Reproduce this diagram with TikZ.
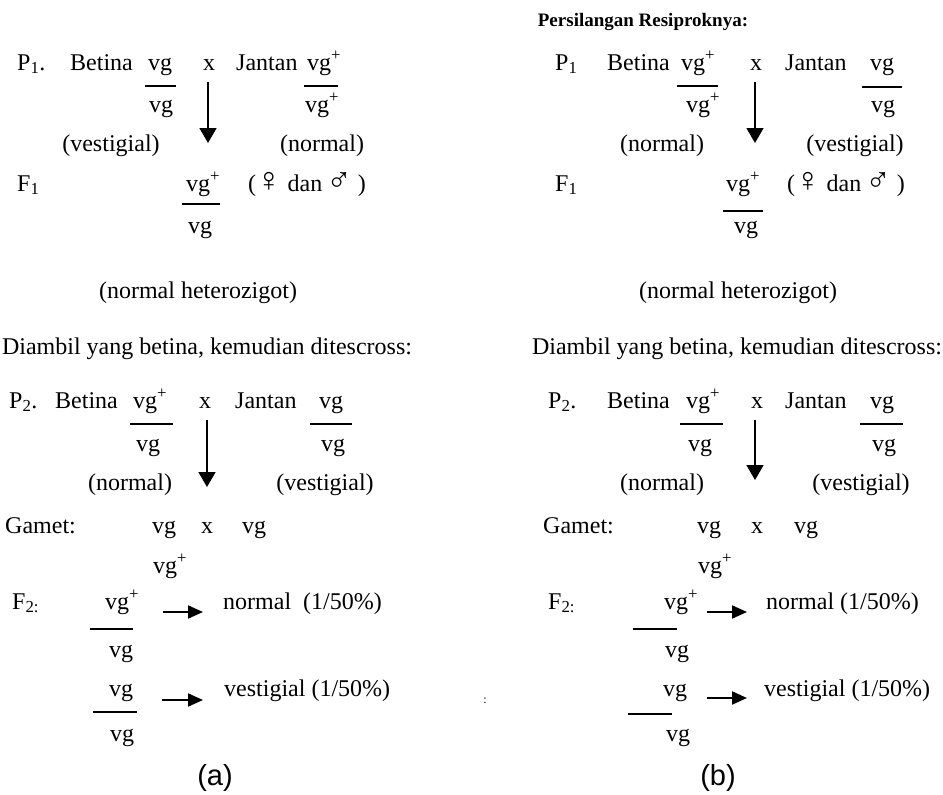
\documentclass[tikz,border=0pt]{standalone}
\usepackage{fontspec}
\setmainfont{Liberation Serif}
\setsansfont{Liberation Sans}
\usetikzlibrary{arrows.meta}
\newcommand{\crossfont}{\fontsize{24}{28}\selectfont}
\newcommand{\vgp}{vg\textsuperscript{+}}
\newcommand{\sexsym}[1]{{\fontsize{34}{34}\selectfont #1}}
\tikzset{
  txt/.style={anchor=base west, inner sep=0pt, font=\crossfont},
  allele/.style={anchor=base, inner sep=0pt, font=\crossfont},
  heading/.style={anchor=base, inner sep=0pt, font=\fontsize{19}{23}\selectfont\bfseries},
  caption/.style={anchor=base, inner sep=0pt, font=\sffamily\fontsize{29}{34}\selectfont},
  fracbar/.style={line width=2pt},
  crossarrow/.style={line width=1.5pt, -{Triangle[width=17pt,length=15pt]}},
  resultarrow/.style={line width=2pt, -{Triangle[width=13pt,length=15pt]}}
}

\begin{document}
\begin{tikzpicture}[x=1pt,y=-1pt]
\useasboundingbox (0,0) rectangle (943,795);

% (a) left cross
\node[txt] (p1a) at (17,70) {P\textsubscript{1}.};
\node[txt] (betp1a) at (70,70) {Betina};
\node[allele] (fp1a) at (160,70) {vg};
\draw[fracbar] (145,86) -- (176,86);
\node[allele] (fp1ab) at (161,112) {vg};
\node[allele] (xp1a) at (209,70) {x};
\node[txt] (janp1a) at (236,70) {Jantan};
\node[allele] (mp1a) at (324,70) {\vgp};
\draw[fracbar] (304,86) -- (338,86);
\node[allele] (mp1ab) at (322,112) {\vgp};
\node[allele] (phfp1a) at (111,151) {(vestigial)};
\node[allele] (phmp1a) at (322,151) {(normal)};
\coordinate (tip1a) at (208,143);
\draw[crossarrow] (xp1a.south) ++(-1,12) -- (tip1a);

\node[txt] (f1a) at (17,191) {F\textsubscript{1}};
\node[allele] (gf1a) at (203,191) {\vgp};
\draw[fracbar] (182,204) -- (220,204);
\node[allele] (gf1ab) at (200,233) {vg};
\node[txt] (sexa) at (248,191) {(\sexsym{♀}\ dan\,\sexsym{♂}\ )};
\node[allele] (heta) at (198,298) {(normal heterozigot)};
\node[allele] (tca) at (207,354) {Diambil yang betina, kemudian ditescross:};

\node[txt] (p2a) at (9,408) {P\textsubscript{2}.};
\node[txt] (betp2a) at (55,408) {Betina};
\node[allele] (fp2a) at (150,408) {\vgp};
\draw[fracbar] (130,424) -- (173,424);
\node[allele] (fp2ab) at (148,451) {vg};
\node[allele] (xp2a) at (205,408) {x};
\node[txt] (janp2a) at (235,408) {Jantan};
\node[allele] (mp2a) at (331,408) {vg};
\draw[fracbar] (310,424) -- (352,424);
\node[allele] (mp2ab) at (333,451) {vg};
\node[allele] (phfp2a) at (130,490) {(normal)};
\node[allele] (phmp2a) at (325,490) {(vestigial)};
\coordinate (tip2a) at (207,487);
\draw[crossarrow] (xp2a.south) ++(2,12) -- (tip2a);

\node[txt] (gama) at (5,533) {Gamet:};
\node[allele] (gam1a) at (164,533) {vg};
\node[allele] (gamxa) at (207,533) {x};
\node[allele] (gam2a) at (254,533) {vg};
\node[allele] (gam3a) at (170,573) {\vgp};

\node[txt] (f2a) at (12,609) {F\textsubscript{2:}};
\node[allele] (g1a) at (122,609) {\vgp};
\draw[fracbar] (90,629) -- (133,629);
\node[allele] (g1ab) at (121,657) {vg};
\coordinate (s1a) at (163,612);
\node[txt] (r1a) at (223,609) {normal\ \ (1/50\%)};
\draw[resultarrow] (s1a) -- (203,612);
\node[allele] (g2a) at (121,696) {vg};
\draw[fracbar] (93,712) -- (137,712);
\node[allele] (g2ab) at (122,741) {vg};
\coordinate (s2a) at (162,700);
\node[txt] (r2a) at (224,696) {vestigial (1/50\%)};
\draw[resultarrow] (s2a) -- (203,700);
\node[caption] (capa) at (215,785) {(a)};

% (b) reciprocal cross
\node[heading] (title) at (643,26) {Persilangan Resiproknya:};
\node[txt] (p1b) at (555,70) {P\textsubscript{1}};
\node[txt] (betp1b) at (607,70) {Betina};
\node[allele] (fp1b) at (698,70) {\vgp};
\draw[fracbar] (677,86) -- (718,86);
\node[allele] (fp1bb) at (703,112) {\vgp};
\node[allele] (xp1b) at (756,70) {x};
\node[txt] (janp1b) at (785,70) {Jantan};
\node[allele] (mp1b) at (882,70) {vg};
\draw[fracbar] (862,87) -- (902,87);
\node[allele] (mp1bb) at (883,112) {vg};
\node[allele] (phfp1b) at (662,151) {(normal)};
\node[allele] (phmp1b) at (855,151) {(vestigial)};
\coordinate (tip1b) at (755,143);
\draw[crossarrow] (xp1b.south) ++(-1,12) -- (tip1b);

\node[txt] (f1b) at (555,191) {F\textsubscript{1}};
\node[allele] (gf1b) at (743,191) {\vgp};
\draw[fracbar] (723,211) -- (763,211);
\node[allele] (gf1bb) at (746,233) {vg};
\node[txt] (sexb) at (787,191) {(\sexsym{♀}\ dan\,\sexsym{♂}\ )};
\node[allele] (hetb) at (738,298) {(normal heterozigot)};
\node[allele] (tcb) at (737,354) {Diambil yang betina, kemudian ditescross:};

\node[txt] (p2b) at (548,408) {P\textsubscript{2}.};
\node[txt] (betp2b) at (607,408) {Betina};
\node[allele] (fp2b) at (703,408) {\vgp};
\draw[fracbar] (680,424) -- (723,424);
\node[allele] (fp2bb) at (700,451) {vg};
\node[allele] (xp2b) at (757,408) {x};
\node[txt] (janp2b) at (785,408) {Jantan};
\node[allele] (mp2b) at (882,408) {vg};
\draw[fracbar] (860,424) -- (903,424);
\node[allele] (mp2bb) at (884,451) {vg};
\node[allele] (phfp2b) at (662,490) {(normal)};
\node[allele] (phmp2b) at (861,490) {(vestigial)};
\coordinate (tip2b) at (755,480);
\draw[crossarrow] (xp2b.south) ++(-2,12) -- (tip2b);

\node[txt] (gamb) at (543,533) {Gamet:};
\node[allele] (gam1b) at (709,533) {vg};
\node[allele] (gamxb) at (757,533) {x};
\node[allele] (gam2b) at (806,533) {vg};
\node[allele] (gam3b) at (715,573) {\vgp};

\node[txt] (f2b) at (548,609) {F\textsubscript{2:}};
\node[allele] (g1b) at (681,609) {\vgp};
\draw[fracbar] (633,629) -- (677,629);
\node[allele] (g1bb) at (677,657) {vg};
\coordinate (s1b) at (707,612);
\node[txt] (r1b) at (766,609) {normal (1/50\%)};
\draw[resultarrow] (s1b) -- (747,612);
\node[allele, font=\fontsize{12}{14}\selectfont] (dotsb) at (485,703) {:};
\node[allele] (g2b) at (675,696) {vg};
\draw[fracbar] (628,714) -- (672,714);
\node[allele] (g2bb) at (678,741) {vg};
\coordinate (s2b) at (707,698);
\node[txt] (r2b) at (764,696) {vestigial (1/50\%)};
\draw[resultarrow] (s2b) -- (747,698);
\node[caption] (capb) at (718,785) {(b)};
\end{tikzpicture}
\end{document}
